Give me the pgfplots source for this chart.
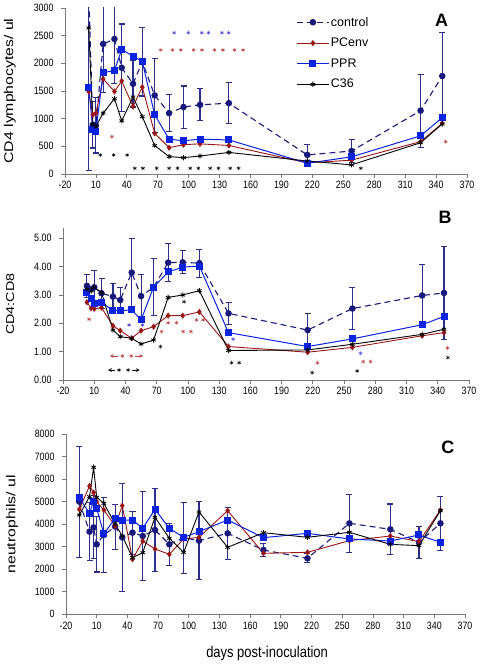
\documentclass[border=0pt]{standalone}
\usepackage{pgfplots}
\pgfplotsset{compat=1.18}
\usepackage{fontspec}
\setmainfont{Liberation Sans}
\usepackage{graphicx}

\definecolor{ctrl}{RGB}{25,25,125}
\definecolor{ebar}{RGB}{45,45,140}
\definecolor{ppr}{RGB}{10,35,225}
\definecolor{pce}{RGB}{155,20,20}
\definecolor{starb}{RGB}{70,70,220}
\definecolor{starr}{RGB}{190,60,60}
\definecolor{axgray}{RGB}{120,120,120}

\newcommand{\tl}[1]{\scalebox{1}[1.2]{#1}}

\pgfplotsset{
  base/.style={
    scale only axis,
    anchor=south west,
    xmin=-20, xmax=370,
    xtick={-20,10,...,370},
    axis lines=left,
    axis line style={-, axgray, line width=0.8pt},
    tick style={axgray, line width=0.8pt},
    tick align=outside,
    major tick length=4bp,
    tick label style={font=\fontsize{8.9}{10}\selectfont, black},
    yticklabel style={xshift=-4bp},
    /pgf/number format/1000 sep={},
    /pgf/number format/assume math mode=true,
    xticklabel={\tl{\pgfmathprintnumber{\tick}}},
    yticklabel={\tl{\pgfmathprintnumber{\tick}}},
    ylabel style={anchor=center},
    clip=true,
  },
  ctrlst/.style={ctrl, line width=1.1pt, dash pattern=on 6bp off 4bp, mark=*, mark size=2.7bp,
    mark options={solid, fill=ctrl},
    error bars/.cd, y dir=both, y explicit,
    error bar style={ebar, line width=1.1pt, solid},
    error mark options={rotate=90, ebar, mark size=3bp, line width=1.1pt, solid}},
  pprst/.style={ppr, line width=1pt, mark=square*, mark size=3bp, mark options={solid, fill=ppr},
    error bars/.cd, y dir=both, y explicit,
    error bar style={ebar, line width=1.1pt, solid},
    error mark options={rotate=90, ebar, mark size=3bp, line width=1.1pt, solid}},
  pcest/.style={pce, line width=0.9pt, mark=diamond*, mark size=2.4bp, mark options={solid, fill=pce}},
  c36st/.style={black, line width=0.9pt, mark=asterisk, mark size=2.6bp, mark options={solid, line width=0.8pt}},
  stb/.style={only marks, mark=asterisk, mark size=2bp, starb, mark options={line width=0.5pt}, forget plot},
  str/.style={only marks, mark=asterisk, mark size=2bp, starr, mark options={line width=0.5pt}, forget plot},
  stk/.style={only marks, mark=asterisk, mark size=2bp, black, mark options={line width=0.5pt}, forget plot},
}

\begin{document}
\begin{tikzpicture}
\path[use as bounding box] (0,0) rectangle (484bp,664bp);

% ---------------- Panel A ----------------
\begin{axis}[base, at={(65bp,490bp)}, width=402bp, height=166bp,
  ymin=0, ymax=3000, ytick={0,500,...,3000},
  ylabel={\scalebox{1.25}[1]{CD4 lymphocytes/ ul}},
  ylabel style={at={(axis description cs:-0.137,0.5)}, font=\fontsize{12.7}{14}\selectfont},
  legend style={at={(axis description cs:0.575,0.956)}, anchor=north west, draw=none, fill=none,
    font=\fontsize{12.5}{15}\selectfont, row sep=7.5bp, inner sep=0pt,
    nodes={inner sep=1.5pt}},
  legend cell align=left,
  legend image code/.code={\draw[mark repeat=2,mark phase=2,#1] plot coordinates {(0bp,0bp) (16bp,0bp) (32bp,0bp)};},
]
\addplot[ctrlst] coordinates {(3,3300) +- (0,0) (7,890) +- (0,420) (10,880) +- (0,500) (17,2350) +- (0,880) (28,2440) +- (0,800) (35,1920) +- (0,790) (46,1630) +- (0,420) (55,2030) +- (0,620) (67,1420) +- (0,670) (81,1100) +- (0,330) (95,1210) +- (0,380) (111,1250) +- (0,290) (139,1280) +- (0,370) (215,345) +- (0,180) (258,415) +- (0,210) (325,1145) +- (0,660) (346,1770) +- (0,780)};
\addlegendentry{control}
\addplot[pcest] coordinates {(3,1490) (7,1070) (10,1100) (17,1720) (28,1490) (35,1680) (46,1220) (55,1570) (67,735) (81,475) (95,530) (111,545) (139,515) (215,200) (258,250) (325,585) (346,915)};
\addlegendentry{PCenv}
\addplot[pprst] coordinates {(3,1570) +- (0,1500) (7,800) +- (0,0) (10,770) +- (0,0) (17,1830) +- (0,0) (28,1870) +- (0,0) (35,2250) +- (0,0) (46,2130) +- (0,0) (55,2030) +- (0,0) (67,1070) +- (0,0) (81,630) +- (0,0) (95,600) +- (0,0) (111,630) +- (0,0) (139,615) +- (0,0) (215,195) +- (0,0) (258,310) +- (0,0) (325,690) +- (0,0) (346,1020) +- (0,0)};
\addlegendentry{PPR}
\addplot[c36st] coordinates {(3,2640) (7,900) (10,860) (17,1100) (28,1360) (35,960) (46,1390) (55,1035) (67,515) (81,315) (95,295) (111,325) (139,390) (215,235) (258,165) (325,565) (346,905)};
\addlegendentry{C36}
% significance stars
\addplot[stb] coordinates {(85.9,2553) (99.6,2553) (112.7,2553) (119.2,2553) (132.3,2553) (138.8,2553)};
\addplot[str] coordinates {(72.9,2241) (84.3,2241) (92.4,2241) (104.8,2241) (112.9,2241) (125,2241) (133.2,2241) (144.5,2241) (152.7,2241) (25.5,675) (349.3,585)};
\addplot[stk] coordinates {(14.2,343) (27.2,343) (40.3,343) (47.7,103) (55.6,103) (69,103) (81,103) (89.2,103) (101.5,103) (109.3,103) (120.8,103) (128.9,103) (140.3,103) (148.4,103) (267,103)};
\node[font=\fontsize{18}{18}\selectfont\bfseries] at (axis description cs:0.937,0.928) {A};
\end{axis}

% ---------------- Panel B ----------------
\begin{axis}[base, at={(63bp,284bp)}, width=406bp, height=151.7bp,
  ymin=0, ymax=5.35, ytick={0,1,...,5},
  yticklabel style={/pgf/number format/.cd, fixed, fixed zerofill, precision=2},
  ylabel={\scalebox{1.25}[1]{CD4:CD8}},
  ylabel style={at={(axis description cs:-0.13,0.5)}, font=\fontsize{11.5}{13}\selectfont},
  clip=false,
]
\addplot[ctrlst] coordinates {(3,3.32) +- (0,0.40) (7,3.20) +- (0,0) (10,3.27) +- (0,0.60) (17,3.06) +- (0,0.53) (28,2.94) +- (0,0.47) (35,2.82) +- (0,0.45) (46,3.79) +- (0,1.21) (55,2.96) +- (0,0.75) (67,3.27) +- (0,1.00) (81,4.14) +- (0,0.68) (95,4.15) +- (0,0.41) (111,4.12) +- (0,0.49) (139,2.35) +- (0,0.38) (215,1.76) +- (0,0.60) (258,2.52) +- (0,0.74) (325,2.98) +- (0,1.10) (346,3.07) +- (0,1.63)};
\addplot[pcest] coordinates {(3,2.74) (7,2.53) (10,2.51) (17,2.55) (28,1.91) (35,1.74) (46,1.47) (55,1.74) (67,1.88) (81,2.27) (95,2.27) (111,2.40) (139,1.18) (215,0.98) (258,1.15) (325,1.56) (346,1.67)};
\addplot[pprst] coordinates {(3,3.08) +- (0,0) (7,2.88) +- (0,0) (10,2.70) +- (0,0) (17,2.74) +- (0,0) (28,2.45) +- (0,0) (35,2.45) +- (0,0) (46,2.47) +- (0,0) (55,2.12) +- (0,0) (67,3.27) +- (0,0) (81,3.81) +- (0,0) (95,3.98) +- (0,0) (111,4.02) +- (0,0) (139,1.67) +- (0,0) (215,1.18) +- (0,0) (258,1.45) +- (0,0) (325,1.95) +- (0,0) (346,2.24) +- (0,0)};
\addplot[c36st] coordinates {(3,3.20) (7,3.14) (10,3.27) (17,3.08) (28,1.76) (35,1.53) (46,1.47) (55,1.27) (67,1.41) (81,2.91) (95,3.00) (111,3.15) (139,1.04) (215,1.06) (258,1.26) (325,1.61) (346,1.79)};
\addplot[stb] coordinates {(43.5,1.94) (56.3,1.94) (143.5,1.44) (265.8,0.94)};
\addplot[str] coordinates {(5,2.14) (74.6,1.71) (81,2.02) (89,2.02) (95.4,1.71) (102.8,1.71) (108.2,2.12) (114.6,2.12) (224.4,0.61) (268.3,0.65) (275.4,0.65) (349.4,1.12) (37,0.85) (45.5,0.85)};
\addplot[stk] coordinates {(73.6,1.18) (96.3,2.76) (141.9,0.61) (149.2,0.61) (219.3,0.26) (262.6,0.32) (349.7,0.79) (33.8,0.35) (42.5,0.35)};
\addplot[starr, line width=0.7pt, <-, >=stealth, forget plot] coordinates {(25,0.85) (33,0.85)};
\addplot[starr, line width=0.7pt, ->, >=stealth, forget plot] coordinates {(49,0.85) (57,0.85)};
\addplot[black, line width=0.7pt, <-, >=stealth, forget plot] coordinates {(23.3,0.35) (30,0.35)};
\addplot[black, line width=0.7pt, ->, >=stealth, forget plot] coordinates {(46,0.35) (53.7,0.35)};
\node[font=\fontsize{18}{18}\selectfont\bfseries] at (axis description cs:0.941,1.075) {B};
\end{axis}

% ---------------- Panel C ----------------
\begin{axis}[base, at={(66bp,49.7bp)}, width=399bp, height=180bp,
  ymin=0, ymax=8000, ytick={0,1000,...,8000},
  ylabel={\scalebox{1.25}[1]{neutrophils/ ul}},
  ylabel style={at={(axis description cs:-0.135,0.5)}, font=\fontsize{12.7}{14}\selectfont},
  xlabel={\scalebox{1}[1.2]{days post-inoculation}},
  xlabel style={at={(axis description cs:0.504,-0.215)}, anchor=center, font=\fontsize{13}{15}\selectfont},
]
\addplot[ctrlst] coordinates {(-7,5006) +- (0,2470) (3,3673) +- (0,1300) (7,3865) +- (0,1400) (10,3110) +- (0,1230) (17,3525) +- (0,1650) (28,3900) +- (0,1000) (35,3414) +- (0,2400) (45,3628) +- (0,950) (55,3480) +- (0,1960) (67,3747) +- (0,1850) (81,3110) +- (0,940) (95,3400) +- (0,1570) (110,3273) +- (0,1740) (138,3600) +- (0,1150) (173,2858) +- (0,300) (216,2488) +- (0,200) (257,4043) +- (0,1280) (297,3777) +- (0,1125) (325,3200) +- (0,700) (346,4043) +- (0,1190)};
\addplot[pcest] coordinates {(-7,4665) (3,5702) (7,5406) (10,5000) (17,4635) (28,3925) (35,4828) (45,2444) (55,3258) (67,2903) (81,2666) (95,3347) (110,3421) (138,4606) (173,2710) (216,2755) (257,3273) (297,3480) (325,3229) (346,4635)};
\addplot[pprst] coordinates {(-7,5183) +- (0,0) (3,4487) +- (0,0) (7,5035) +- (0,0) (10,4710) +- (0,0) (17,3570) +- (0,0) (28,4265) +- (0,0) (35,4191) +- (0,0) (45,4191) +- (0,0) (55,3821) +- (0,0) (67,4665) +- (0,0) (81,3821) +- (0,0) (95,3421) +- (0,0) (110,3673) +- (0,0) (138,4191) +- (0,0) (173,3406) +- (0,0) (216,3599) +- (0,0) (257,3347) +- (0,0) (297,3258) +- (0,0) (325,3525) +- (0,0) (346,3199) +- (0,0)};
\addplot[c36st] coordinates {(-7,4413) (3,5228) (7,6531) (10,5198) (17,4932) (28,4013) (35,3480) (45,2518) (55,2740) (67,4310) (81,3377) (95,2755) (110,4547) (138,2977) (173,3628) (216,3421) (257,3643) (297,3110) (325,3051) (346,4606)};
\node[font=\fontsize{18}{18}\selectfont\bfseries] at (axis description cs:0.957,0.93) {C};
\end{axis}
\end{tikzpicture}
\end{document}
